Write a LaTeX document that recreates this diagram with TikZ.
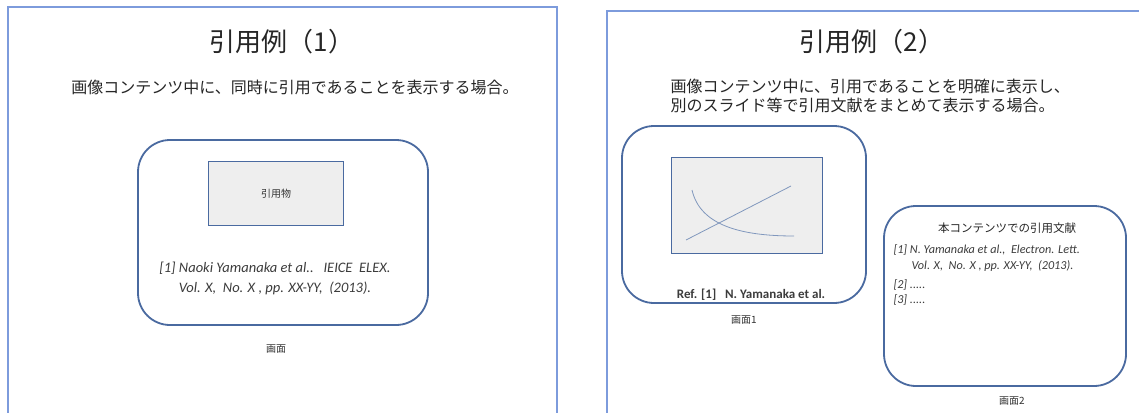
\documentclass[tikz,border=0pt]{standalone}
\usepackage{fontspec}
\setmainfont{Carlito}
\newfontfamily\jp{Noto Sans CJK JP}
\definecolor{panelblue}{RGB}{125,155,220}
\definecolor{boxblue}{RGB}{74,106,160}
\definecolor{fillgray}{RGB}{238,238,238}
\definecolor{txtgray}{RGB}{60,60,60}
\tikzset{
  panel/.style={draw=panelblue, line width=1.3pt},
  screen/.style={draw=boxblue, line width=1.8pt, rounded corners=32pt},
  picbox/.style={draw=boxblue, line width=1.1pt, fill=fillgray},
  titletext/.style={font=\jp\fontsize{26}{30}\selectfont, text=black!85},
  subtext/.style={font=\jp\fontsize{16}{19}\selectfont, text=black!85, align=left},
  caplabel/.style={font=\jp\fontsize{10}{12}\selectfont, text=black!80},
  cite/.style={font=\itshape\fontsize{14.5}{20}\selectfont, text=txtgray},
  citesmall/.style={font=\itshape\fontsize{12.2}{14}\selectfont, text=txtgray, anchor=west},
  curveline/.style={draw=boxblue!70, line width=0.8pt}
}
\begin{document}
\begin{tikzpicture}[x=1pt,y=-1pt]
\useasboundingbox (0,0) rectangle (1139,412);
\fill[white] (0,0) rectangle (1139,412);
% panels
\draw[panel] (8,420) -- (8,7) -- (557,7) -- (557,420);
\draw[panel] (607,420) -- (607,11) -- (1145,11);
% left panel
\node[titletext] (t1) at (282,42) {引用例（1）};
\node[subtext] (s1) at (295,87) {画像コンテンツ中に、同時に引用であることを表示する場合。};
\draw[screen] (138,140) rectangle (428,325);
\node[picbox, minimum width=135pt, minimum height=64pt, anchor=north west] (p1) at (208,161) {};
\node[caplabel] (q1) at (p1.center) {引用物};
\node[cite, align=center] (c1) at (275,278) {[1] Naoki Yamanaka et al..\ \ \ IEICE\ \ ELEX.\\Vol. X,\ \ No. X , pp. XX-YY,\ \ (2013).};
\node[caplabel] (g1) at (276,349) {画面};
% right panel
\node[titletext] (t2) at (872,42) {引用例（2）};
\node[subtext, anchor=west] (s2) at (667,96) {画像コンテンツ中に、引用であることを明確に表示し、\\別のスライド等で引用文献をまとめて表示する場合。};
\draw[screen] (622,126) rectangle (866,303);
\node[picbox, minimum width=151pt, minimum height=96pt, anchor=north west] (p2) at (671,157) {};
\draw[curveline] (686,240) -- (791,186);
\draw[curveline] (692,190) .. controls (700,225) and (740,236) .. (794,236);
\node[font=\bfseries\fontsize{13}{15}\selectfont, text=txtgray] (r1) at (751,295) {Ref. [1]\ \ \ N. Yamanaka et al.};
\node[caplabel] (g2) at (744,320) {画面1};
\draw[screen] (884,206) rectangle (1126,386);
\node[font=\jp\fontsize{11.5}{13}\selectfont, text=black!85] (h2) at (1007,228) {本コンテンツでの引用文献};
\node[citesmall] (l1) at (890,250) {[1] N. Yamanaka et al.,\ \ Electron. Lett.};
\node[citesmall] (l2) at (908,266) {Vol. X,\ \ No. X , pp. XX-YY,\ \ (2013).};
\node[citesmall] (l3) at (890,285) {[2] .....};
\node[citesmall] (l4) at (890,300) {[3] .....};
\node[caplabel] (g3) at (1012,401) {画面2};
\end{tikzpicture}
\end{document}
